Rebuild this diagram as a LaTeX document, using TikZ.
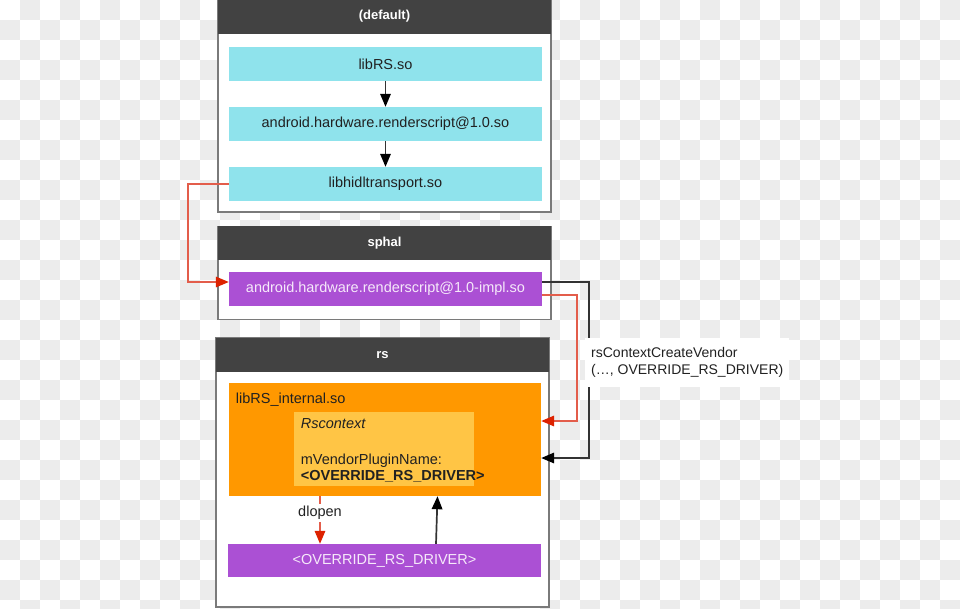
\documentclass[tikz,border=0pt]{standalone}
\usepackage{fontspec}
\setmainfont{Liberation Sans}
\usetikzlibrary{arrows.meta,calc}
\definecolor{chk}{HTML}{ECECEC}
\definecolor{hdr}{HTML}{424242}
\definecolor{pborder}{HTML}{7A7A7A}
\definecolor{cyanbox}{HTML}{8FE3EC}
\definecolor{purplebox}{HTML}{AB50D4}
\definecolor{orangebox}{HTML}{FF9800}
\definecolor{amberbox}{HTML}{FFC545}
\definecolor{redline}{HTML}{E35D4B}
\definecolor{redtip}{HTML}{DD2200}
\definecolor{darkline}{HTML}{333333}
\definecolor{txt}{HTML}{212121}
\definecolor{ptxt}{HTML}{F6E9FA}
\tikzset{
  panel/.style={draw=pborder, line width=1.2pt, fill=white, minimum width=333pt, inner sep=0pt},
  header/.style={fill=hdr, minimum width=333pt, minimum height=34pt, inner sep=0pt, text=white, font=\bfseries\fontsize{13}{15}\selectfont, anchor=north},
  cyanlib/.style={fill=cyanbox, minimum width=313pt, minimum height=34pt, inner sep=0pt, text=txt, font=\fontsize{14.5}{17}\selectfont},
  purplelib/.style={fill=purplebox, minimum width=313pt, minimum height=34pt, inner sep=0pt, text=ptxt, font=\fontsize{14.5}{17}\selectfont},
  plaintext/.style={inner sep=0pt, text=txt, font=\fontsize{14.5}{17}\selectfont, anchor=base west},
  blkc/.style={draw=darkline, line width=1.7pt, -{Triangle[length=13pt,width=10.5pt,color=black]}},
  redc/.style={draw=redline, line width=1.7pt, -{Triangle[length=13pt,width=10.5pt,color=redtip]}},
}
\begin{document}
\begin{tikzpicture}[x=1pt,y=-1pt]
\useasboundingbox (0,0) rectangle (960,608);
% transparency checkerboard
\begin{scope}
\clip (0,0) rectangle (960,608);
\foreach \i in {0,...,47}{\foreach \j in {0,...,30}{%
  \pgfmathtruncatemacro\chkodd{mod(\i+\j,2)}%
  \ifnum\chkodd=1 \fill[chk] (\i*20,\j*20) rectangle ++(20,20);\fi}}
\end{scope}

% panel (default)
\node[panel, minimum height=212pt] (pdefault) at (384.5,106) {};
\node[header] (hdefault) at (pdefault.north) {(default)};
\node[cyanlib] (librs) at (385.5,64) {libRS.so};
\node[cyanlib] (hidlrs) at (385.5,124) {android.hardware.renderscript@1.0.so};
\node[cyanlib] (hidl) at (385.5,184) {libhidltransport.so};

% panel sphal
\node[panel, minimum height=93pt] (psphal) at (384.5,273) {};
\node[header] (hsphal) at (psphal.north) {sphal};
\node[purplelib] (implso) at (385.5,289) {android.hardware.renderscript@1.0-impl.so};

% panel rs
\node[panel, minimum height=269pt] (prs) at (382.5,472.5) {};
\node[header] (hrs) at (prs.north) {rs};
\node[fill=orangebox, minimum width=312pt, minimum height=113pt, inner sep=0pt] (internal) at (385,439.5) {};
\node[fill=amberbox, minimum width=180pt, minimum height=74pt, inner sep=0pt] (ctx) at (384,449) {};
\node[plaintext] (internaltxt) at (235.7,403.5) {libRS\_internal.so};
\node[plaintext] (ctxname) at (300.7,428) {\itshape Rscontext};
\node[plaintext] (ctxfield) at (300.7,464.5) {mVendorPluginName:};
\node[plaintext] (ctxvalue) at (300.7,480.5) {\bfseries <OVERRIDE\_RS\_DRIVER>};
\node[purplelib, minimum height=33pt] (driver) at (384.5,560.5) {<OVERRIDE\_RS\_DRIVER>};

% connectors
\draw[blkc] (librs) -- (hidlrs);
\draw[blkc] (hidlrs) -- (hidl);
\draw[redc] (hidl.west) -- ++(-41,0) |- ([yshift=7pt]implso.west);
\draw[redc] ([yshift=-6pt]implso.east) -- ++(35,0) |- ([yshift=18.5pt]internal.east);
\draw[blkc] ([yshift=7pt]implso.east) -- ++(47,0) |- ([yshift=-18.5pt]internal.east);
\draw[redc] ([xshift=-65pt]internal.south) -- node[pos=0.35, fill=white, inner sep=2pt, text=txt, font=\fontsize{14.5}{17}\selectfont] (dlopenlbl) {dlopen} ([xshift=-64.5pt]driver.north);
\draw[blkc] ([xshift=51.5pt]driver.north) -- ([xshift=52.5pt]internal.south);

% call label
\node[anchor=west, fill=white, minimum width=188pt, minimum height=48.5pt, inner xsep=6pt, inner ysep=0pt, align=left, text=txt, font=\fontsize{14}{17.5}\selectfont] (vendorlbl) at (585,362.5) {rsContextCreateVendor\\(…, OVERRIDE\_RS\_DRIVER)};
\end{tikzpicture}
\end{document}
